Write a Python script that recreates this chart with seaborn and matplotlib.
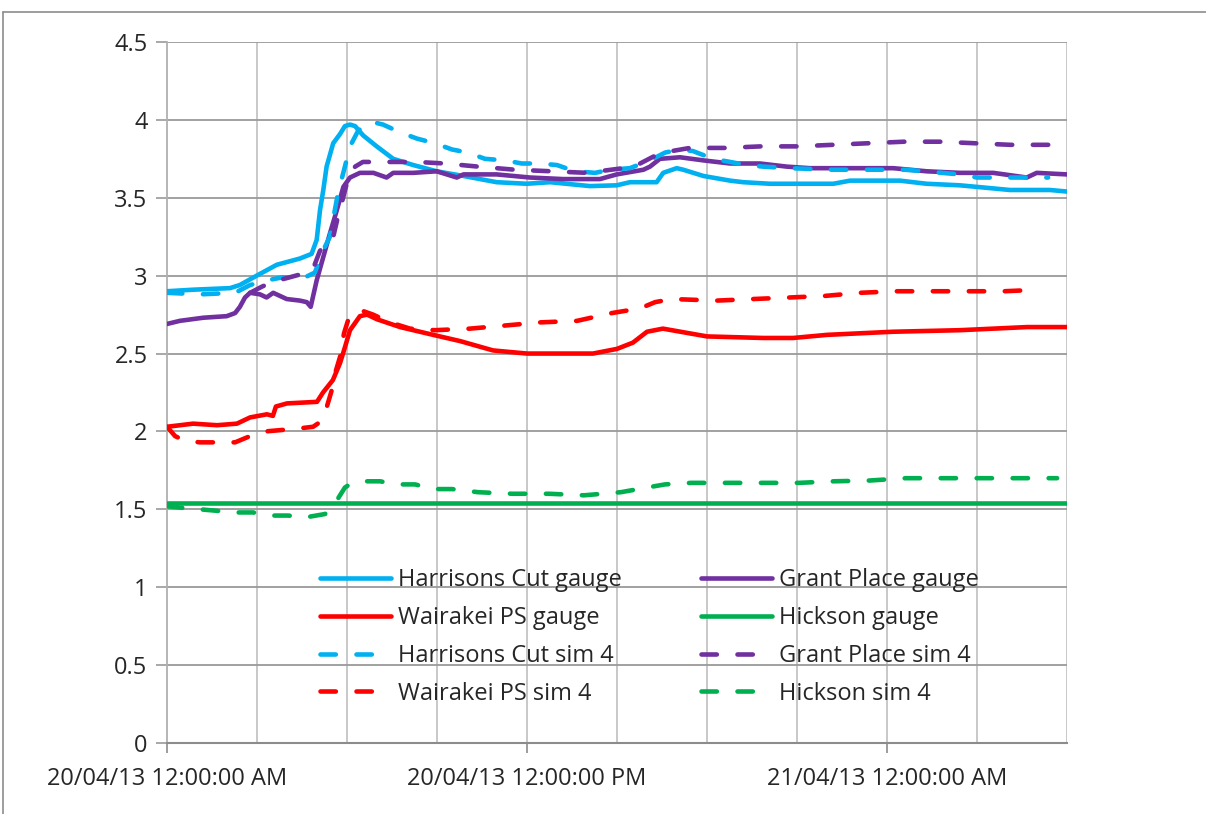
import matplotlib
matplotlib.use("Agg")
import matplotlib.pyplot as plt
from matplotlib.lines import Line2D
import seaborn as sns
import pandas as pd

# hours after 20/04/13 00:00, water level (m)
hc_gauge_h = [0, 0.88, 2.1, 2.43, 2.99, 3.66, 4.43, 4.82, 4.99, 5.1, 5.21, 5.32, 5.54, 5.77, 5.93, 6.1,
              6.27, 6.54, 6.99, 7.54, 8.21, 8.99, 9.88, 10.99, 11.99, 12.77, 14.1, 14.99, 15.43, 16.32,
              16.54, 16.99, 17.21, 17.88, 18.77, 19.21, 20.1, 20.88, 22.21, 22.77, 24.43, 25.32, 26.43,
              26.99, 28.1, 29.43, 30]
hc_gauge_v = [2.90, 2.91, 2.92, 2.94, 3.00, 3.07, 3.11, 3.14, 3.23, 3.42, 3.55, 3.70, 3.85, 3.91, 3.96, 3.97,
              3.96, 3.90, 3.83, 3.75, 3.71, 3.67, 3.64, 3.60, 3.59, 3.60, 3.575, 3.58, 3.60, 3.60,
              3.66, 3.69, 3.68, 3.64, 3.61, 3.60, 3.59, 3.59, 3.59, 3.61, 3.61, 3.59, 3.58,
              3.57, 3.55, 3.55, 3.54]

gp_gauge_h = [0, 0.43, 1.21, 1.99, 2.27, 2.43, 2.6, 2.77, 3.1, 3.32, 3.54, 3.99, 4.43, 4.66, 4.79, 4.99,
              5.21, 5.43, 5.66, 5.88, 6.1, 6.43, 6.88, 7.32, 7.54, 8.21, 8.99, 9.66, 9.88, 10.99, 12.1,
              13.21, 14.43, 14.99, 15.88, 16.1, 16.43, 17.1, 17.88, 18.77, 19.77, 20.66, 21.43, 22.54,
              24.21, 25.32, 26.43, 27.54, 28.66, 28.99, 30]
gp_gauge_v = [2.69, 2.71, 2.73, 2.74, 2.76, 2.80, 2.86, 2.89, 2.88, 2.86, 2.89, 2.85, 2.84, 2.83, 2.80, 2.97,
              3.12, 3.27, 3.42, 3.57, 3.63, 3.66, 3.66, 3.63, 3.66, 3.66, 3.67, 3.63, 3.65, 3.65, 3.63,
              3.62, 3.62, 3.65, 3.68, 3.70, 3.75, 3.76, 3.74, 3.72, 3.72, 3.70, 3.69, 3.69,
              3.69, 3.67, 3.66, 3.66, 3.63, 3.66, 3.65]

wps_gauge_h = [0, 0.87, 1.67, 2.33, 2.77, 3.33, 3.53, 3.63, 4.0, 5.0, 5.2, 5.53, 5.77, 5.93, 6.1, 6.43,
               6.67, 7.0, 7.77, 8.87, 9.77, 10.87, 12.0, 13.1, 14.2, 15.0, 15.53, 16.0, 16.53, 18.0,
               19.87, 20.87, 22.0, 24.2, 26.43, 28.67, 30]
wps_gauge_v = [2.03, 2.05, 2.04, 2.05, 2.09, 2.11, 2.10, 2.16, 2.18, 2.19, 2.25, 2.33, 2.44, 2.54, 2.65, 2.74,
               2.75, 2.72, 2.67, 2.62, 2.58, 2.52, 2.50, 2.50, 2.50, 2.53, 2.57, 2.64, 2.66, 2.61,
               2.60, 2.60, 2.62, 2.64, 2.65, 2.67, 2.67]

hk_gauge_h = [0, 30]
hk_gauge_v = [1.54, 1.54]

hc_sim_h = [0, 1.1, 2.27, 2.77, 3.33, 3.87, 4.5, 4.93, 5.2, 5.43, 5.7, 5.93, 6.1, 6.37, 6.77, 7.2, 7.77,
            8.33, 8.93, 9.5, 10.03, 10.6, 11.27, 11.83, 12.43, 13.0, 13.6, 14.27, 14.77, 15.43, 16.1,
            16.6, 17.1, 17.53, 18.2, 18.77, 19.33, 19.87, 20.77, 22.2, 23.43, 24.6, 25.27, 25.83,
            26.43, 27.0, 28.2, 29.37]
hc_sim_v = [2.89, 2.88, 2.89, 2.94, 2.97, 2.99, 2.98, 3.02, 3.16, 3.25, 3.53, 3.70, 3.83, 3.93, 3.99, 3.97,
            3.92, 3.88, 3.85, 3.81, 3.79, 3.75, 3.74, 3.72, 3.72, 3.71, 3.67, 3.66, 3.68, 3.69, 3.74,
            3.79, 3.81, 3.80, 3.75, 3.73, 3.71, 3.70, 3.69, 3.68, 3.68, 3.68, 3.67, 3.66,
            3.65, 3.63, 3.63, 3.63]

gp_sim_h = [2.77, 3.17, 3.53, 4.1, 4.67, 4.9, 5.1, 5.53, 5.7, 5.83, 6.03, 6.27, 6.53, 7.1, 8.33, 9.27,
            10.37, 11.6, 12.83, 14.0, 15.2, 15.77, 16.27, 16.83, 17.43, 18.6, 19.8, 21.0, 22.2, 23.37,
            24.57, 25.77, 26.93, 28.1, 29.67]
gp_sim_v = [2.89, 2.93, 2.96, 2.99, 3.02, 3.06, 3.16, 3.24, 3.38, 3.47, 3.62, 3.70, 3.73, 3.73, 3.73, 3.72,
            3.70, 3.68, 3.67, 3.66, 3.69, 3.72, 3.77, 3.80, 3.82, 3.82, 3.83, 3.83, 3.84, 3.85,
            3.86, 3.86, 3.85, 3.84, 3.84]

wps_sim_h = [0, 0.27, 0.6, 1.1, 1.67, 2.27, 2.77, 3.27, 3.87, 4.43, 4.87, 5.1, 5.33, 5.5, 5.63, 5.77, 5.9,
             6.03, 6.43, 6.87, 7.43, 8.1, 8.93, 10.1, 11.27, 12.43, 13.67, 14.83, 15.77, 16.27, 16.83,
             18.33, 19.53, 20.77, 21.93, 23.1, 24.3, 25.5, 26.7, 27.9, 29.1]
wps_sim_v = [2.03, 1.97, 1.94, 1.93, 1.93, 1.93, 1.97, 2.00, 2.01, 2.02, 2.03, 2.06, 2.16, 2.27, 2.39, 2.48, 2.63,
             2.71, 2.78, 2.75, 2.70, 2.66, 2.65, 2.66, 2.68, 2.70, 2.71, 2.76, 2.79, 2.83, 2.85,
             2.84, 2.85, 2.86, 2.87, 2.89, 2.90, 2.90, 2.90, 2.90, 2.91]

hk_sim_h = [0, 0.5, 1.1, 1.7, 2.27, 2.87, 3.43, 4.03, 4.67, 5.27, 5.67, 5.93, 6.17, 6.5, 7.1, 7.67, 8.27,
            8.87, 9.5, 10.37, 11.5, 12.73, 13.9, 15.13, 16.0, 16.6, 17.47, 18.67, 19.87, 21.07, 22.23,
            23.43, 24.63, 25.83, 27.03, 28.2, 29.67]
hk_sim_v = [1.52, 1.51, 1.50, 1.49, 1.48, 1.48, 1.46, 1.46, 1.45, 1.47, 1.56, 1.64, 1.67, 1.68, 1.68, 1.66, 1.66,
            1.63, 1.63, 1.61, 1.60, 1.60, 1.59, 1.61, 1.64, 1.66, 1.67, 1.67, 1.67, 1.67, 1.68,
            1.685, 1.70, 1.70, 1.70, 1.70, 1.70]

x_tick_pos = [0, 12, 24]
x_tick_labels = ["20/04/13 12:00:00 AM", "20/04/13 12:00:00 PM", "21/04/13 12:00:00 AM"]
y_tick_pos = [0, 0.5, 1, 1.5, 2, 2.5, 3, 3.5, 4, 4.5]
y_tick_labels = ["0", "0.5", "1", "1.5", "2", "2.5", "3", "3.5", "4", "4.5"]

CYAN = "#00B0F0"
PURPLE = "#7030A0"
RED = "#FF0000"
GREEN = "#00B050"

sns.set_theme(style="white")
plt.rcParams['font.family'] = ['Open Sans', 'DejaVu Sans']

fig = plt.figure(figsize=(12.06, 8.14), dpi=100)
ax = fig.add_axes([167 / 1206, 1 - 743 / 814, 900 / 1206, 701 / 814])

series = [
    ("Harrisons Cut gauge", hc_gauge_h, hc_gauge_v, CYAN, False),
    ("Grant Place gauge", gp_gauge_h, gp_gauge_v, PURPLE, False),
    ("Wairakei PS gauge", wps_gauge_h, wps_gauge_v, RED, False),
    ("Hickson gauge", hk_gauge_h, hk_gauge_v, GREEN, False),
    ("Harrisons Cut sim 4", hc_sim_h, hc_sim_v, CYAN, True),
    ("Grant Place sim 4", gp_sim_h, gp_sim_v, PURPLE, True),
    ("Wairakei PS sim 4", wps_sim_h, wps_sim_v, RED, True),
    ("Hickson sim 4", hk_sim_h, hk_sim_v, GREEN, True),
]

for i, (name, hh, vv, col, dashed) in enumerate(series):
    df = pd.DataFrame({"hours": hh, "level": vv})
    kw = dict(color=col, linewidth=3.3, solid_capstyle="round", dash_capstyle="round",
              solid_joinstyle="round", zorder=3 + i)
    if dashed:
        kw["linestyle"] = (0, (3.35, 4.5))
    sns.lineplot(data=df, x="hours", y="level", ax=ax, label=name, sort=False, **kw)

ax.set_xlim(0, 30)
ax.set_ylim(0, 4.5)
ax.set_xticks(x_tick_pos)
ax.set_xticklabels(x_tick_labels)
ax.set_xticks([3 * k for k in range(11)], minor=True)
ax.set_yticks(y_tick_pos)
ax.set_yticklabels(y_tick_labels)
ax.set_xlabel("")
ax.set_ylabel("")

ax.grid(False)
for k in range(1, 11):
    ax.axvline(3 * k, color="#c4c4c4", linewidth=1.3, zorder=1)
for yv in y_tick_pos[1:]:
    ax.axhline(yv, color="#9a9a9a", linewidth=1.3, zorder=1)

for s in ["top", "right"]:
    ax.spines[s].set_visible(False)
ax.spines["left"].set_color("#b0b0b0")
ax.spines["left"].set_linewidth(1.3)
ax.spines["bottom"].set_color("#8c8c8c")
ax.spines["bottom"].set_linewidth(1.5)

ax.tick_params(axis="x", which="major", direction="out", length=7, width=1.2, color="#8c8c8c",
               labelsize=17, pad=10, bottom=True)
ax.tick_params(axis="x", which="minor", length=0)
ax.tick_params(axis="y", direction="out", length=8, width=1.2, color="#9a9a9a",
               labelsize=17, pad=6, left=True)

handles, labels = ax.get_legend_handles_labels()
order = [0, 2, 4, 6, 1, 3, 5, 7]
ax.legend([handles[i] for i in order], [labels[i] for i in order], ncol=2, frameon=False,
          loc="upper left", bbox_to_anchor=(0.17, 0.249), borderpad=0, borderaxespad=0,
          fontsize=17, handlelength=3.0, handletextpad=0.3, columnspacing=3.35,
          labelspacing=0.58)

fig.add_artist(Line2D([3 / 1206, 1], [1 - 11.5 / 814, 1 - 11.5 / 814], transform=fig.transFigure,
                      color="#8c8c8c", linewidth=1.2))
fig.add_artist(Line2D([3 / 1206, 3 / 1206], [0, 1 - 11.5 / 814], transform=fig.transFigure,
                      color="#8c8c8c", linewidth=1.2))

fig.savefig("out.png", dpi=100)
